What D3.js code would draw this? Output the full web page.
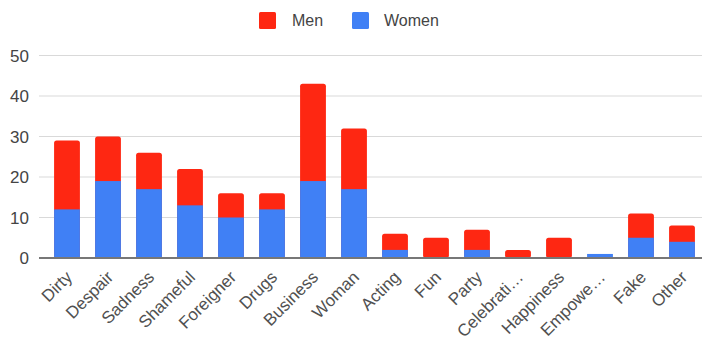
<!DOCTYPE html>
<html><head><meta charset="utf-8">
<script src="https://cdn.jsdelivr.net/npm/d3@7"></script>
<style>body{margin:0;background:#fff}svg{display:block;font-family:"Liberation Sans",Arial,sans-serif}</style>
</head><body><svg id="c" width="702" height="345"></svg>
<script>
const categories = ["Dirty","Despair","Sadness","Shameful","Foreigner","Drugs","Business","Woman","Acting","Fun","Party","Celebrati\u2026","Happiness","Empowe\u2026","Fake","Other"];
const women = [12,19,17,13,10,12,19,17,2,0,2,0,0,1,5,4];
const men   = [17,11,9,9,6,4,24,15,4,5,5,2,5,0,6,4];
const yTicks = [0,10,20,30,40,50];
const seriesNames = ["Men","Women"];
const colors = {Men:"#fe2712", Women:"#4080f5"};

const svg = d3.select("#c");
const x = d3.scaleBand().domain(categories).range([46.5,702.5]).paddingInner(0.37).paddingOuter(0.185);
const y = d3.scaleLinear().domain([0,50]).range([258,55.5]);

// gridlines
svg.append("g").selectAll("line").data(yTicks.filter(d=>d>0)).join("line")
  .attr("x1",39).attr("x2",702).attr("y1",d=>y(d)).attr("y2",d=>y(d))
  .attr("stroke","#d9d9d9").attr("stroke-width",1.2);

// y tick labels
svg.append("g").selectAll("text").data(yTicks).join("text")
  .attr("x",29).attr("y",d=>y(d)).attr("dy","0.36em").attr("text-anchor","end")
  .attr("font-size",17).attr("fill","#444").text(d=>d);

const data = categories.map((c,i)=>({c, w:women[i], m:men[i]}));
// men (full stack, rounded top)
svg.append("g").selectAll("rect").data(data.filter(d=>d.m>0)).join("rect")
  .attr("x",d=>x(d.c)).attr("width",x.bandwidth())
  .attr("y",d=>y(d.w+d.m)).attr("height",d=>y(0)-y(d.w+d.m))
  .attr("rx",2.5).attr("fill",colors.Men);
// women
svg.append("g").selectAll("rect").data(data.filter(d=>d.w>0)).join("rect")
  .attr("x",d=>x(d.c)).attr("width",x.bandwidth())
  .attr("y",d=>y(d.w)).attr("height",d=>y(0)-y(d.w))
  .attr("fill",colors.Women);

// baseline
svg.append("line").attr("x1",39).attr("x2",702).attr("y1",y(0)).attr("y2",y(0))
  .attr("stroke","#777").attr("stroke-width",1.8);

// x labels
svg.append("g").selectAll("text").data(categories).join("text")
  .attr("transform",d=>`translate(${x(d)+x.bandwidth()/2+2},${y(0)+16}) rotate(-45)`)
  .attr("text-anchor","end").attr("dy","0.35em").attr("font-size",17).attr("fill","#505050").text(d=>d);

// legend
const leg = svg.append("g");
const lx = {Men:[259,292], Women:[352,384]};
seriesNames.forEach(s=>{
  leg.append("rect").attr("x",lx[s][0]).attr("y",12).attr("width",17).attr("height",17).attr("rx",1.5).attr("fill",colors[s]);
  leg.append("text").attr("x",lx[s][1]).attr("y",20.5).attr("dy","0.36em").attr("font-size",16).attr("fill","#444").text(s);
});
</script></body></html>
